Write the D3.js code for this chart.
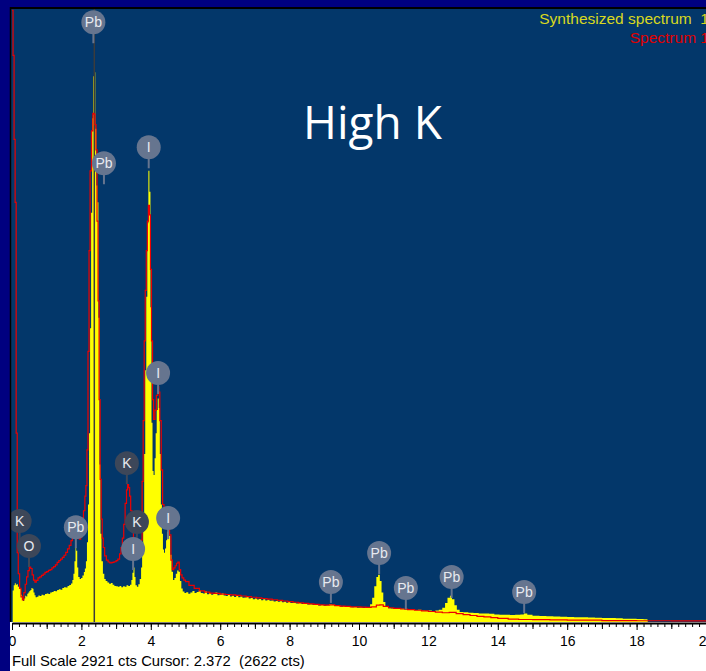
<!DOCTYPE html>
<html><head><meta charset="utf-8">
<script src="https://cdn.jsdelivr.net/npm/d3@7"></script>
<style>html,body{margin:0;padding:0;background:#fff;overflow:hidden}</style>
</head><body><svg id="c" width="706" height="671"></svg>
<script>
// Synthesized spectrum 1 (yellow filled): energy (keV) and counts
const synthE = [0.00,0.02,0.05,0.08,0.11,0.14,0.17,0.20,0.23,0.26,0.29,0.32,0.35,0.38,0.41,0.44,0.47,0.50,0.53,0.56,0.59,0.62,0.65,0.68,0.72,0.76,0.80,0.85,0.90,0.95,1.00,1.05,1.10,1.15,1.20,1.25,1.30,1.35,1.40,1.45,1.50,1.55,1.60,1.65,1.70,1.74,1.77,1.80,1.83,1.85,1.88,1.91,1.95,1.99,2.03,2.07,2.10,2.13,2.16,2.19,2.22,2.25,2.28,2.31,2.34,2.37,2.40,2.43,2.46,2.49,2.52,2.55,2.58,2.62,2.66,2.70,2.75,2.80,2.85,2.90,2.95,3.00,3.05,3.10,3.15,3.20,3.25,3.30,3.35,3.40,3.44,3.47,3.50,3.53,3.56,3.60,3.64,3.68,3.72,3.75,3.78,3.81,3.84,3.87,3.90,3.93,3.96,3.99,4.02,4.05,4.08,4.11,4.14,4.17,4.20,4.23,4.26,4.29,4.32,4.35,4.38,4.41,4.44,4.47,4.50,4.53,4.56,4.60,4.64,4.68,4.72,4.76,4.80,4.84,4.88,4.92,4.97,5.02,5.08,5.14,5.20,5.26,5.32,5.38,5.44,5.50,5.56,5.62,5.68,5.74,5.80,5.86,5.92,5.98,6.04,6.10,6.16,6.22,6.28,6.34,6.40,6.46,6.52,6.58,6.64,6.70,6.76,6.82,6.88,6.94,7.00,7.06,7.12,7.18,7.24,7.30,7.36,7.42,7.48,7.54,7.60,7.66,7.72,7.78,7.84,7.90,7.96,8.02,8.10,8.18,8.26,8.34,8.42,8.50,8.58,8.66,8.74,8.82,8.90,8.98,9.06,9.14,9.22,9.30,9.38,9.46,9.54,9.62,9.70,9.78,9.86,9.94,10.02,10.10,10.18,10.26,10.32,10.38,10.44,10.50,10.55,10.60,10.65,10.70,10.76,10.84,10.92,11.00,11.10,11.20,11.30,11.40,11.50,11.60,11.70,11.80,11.90,12.00,12.10,12.20,12.30,12.40,12.48,12.55,12.62,12.68,12.75,12.82,12.90,13.00,13.15,13.30,13.45,13.60,13.75,13.90,14.05,14.20,14.35,14.50,14.65,14.75,14.85,15.00,15.20,15.40,15.60,15.80,16.00,16.20,16.40,16.60,16.80,17.00,17.20,17.40,17.60,17.80,18.00,18.20,18.30,18.32,20.00];
const synthC = [0,150,175,185,178,180,168,172,160,130,108,100,112,125,122,135,140,148,152,162,158,140,128,118,120,126,124,130,128,134,136,133,140,143,148,146,152,156,154,162,166,164,172,176,184,200,230,290,355,340,260,215,205,210,222,238,255,290,380,560,900,1400,1950,2400,2600,2620,2350,2080,2000,1450,750,420,290,230,205,195,188,182,186,178,172,170,168,172,166,170,168,175,172,178,200,235,260,215,175,168,180,205,260,360,520,800,1200,1550,1900,2150,2050,1500,950,720,700,780,900,1010,1065,1020,800,560,420,345,330,350,390,430,448,410,320,240,200,210,230,245,240,195,160,145,138,142,135,140,148,138,143,150,138,136,145,132,138,130,134,140,128,131,136,126,124,130,122,125,119,124,118,121,115,117,121,112,114,109,112,107,110,104,108,102,106,101,103,98,100,96,99,94,96,92,95,90,92,88,90,86,87,83,85,81,83,79,81,78,80,84,82,76,77,73,75,71,73,70,71,68,69,67,69,72,85,115,170,215,225,195,140,95,72,66,64,66,62,63,60,62,58,57,58,55,54,55,53,55,58,68,90,115,125,108,80,58,48,46,44,43,41,40,39,36,35,34,33,35,36,40,35,30,28,27,26,25,24,23,23,22,20,19,19,18,16,15,14,13,12,0,0];

// Spectrum 1 (red line): energy (keV) and counts
const specE = [0.00,0.03,0.06,0.09,0.12,0.15,0.18,0.22,0.26,0.30,0.34,0.38,0.42,0.46,0.50,0.54,0.58,0.62,0.66,0.70,0.75,0.80,0.85,0.90,0.95,1.00,1.05,1.10,1.15,1.20,1.25,1.30,1.35,1.40,1.45,1.50,1.55,1.60,1.65,1.70,1.74,1.78,1.82,1.86,1.90,1.94,1.98,2.02,2.06,2.10,2.13,2.16,2.19,2.22,2.25,2.29,2.33,2.36,2.39,2.42,2.45,2.48,2.51,2.54,2.57,2.60,2.63,2.67,2.72,2.77,2.82,2.88,2.94,3.00,3.05,3.10,3.14,3.18,3.22,3.26,3.30,3.33,3.36,3.39,3.42,3.46,3.50,3.54,3.58,3.62,3.66,3.69,3.72,3.75,3.78,3.81,3.84,3.87,3.90,3.93,3.96,3.99,4.02,4.05,4.08,4.12,4.16,4.20,4.23,4.26,4.30,4.34,4.38,4.42,4.46,4.50,4.54,4.58,4.62,4.66,4.70,4.74,4.78,4.82,4.86,4.90,4.95,5.00,5.10,5.25,5.40,5.55,5.70,5.85,6.00,6.15,6.30,6.45,6.60,6.75,6.90,7.05,7.20,7.35,7.50,7.65,7.80,7.95,8.10,8.25,8.40,8.55,8.70,8.85,9.00,9.15,9.30,9.45,9.60,9.75,9.90,10.05,10.20,10.35,10.50,10.60,10.70,10.85,11.00,11.20,11.40,11.60,11.80,12.00,12.20,12.40,12.60,12.80,13.00,13.20,13.40,13.60,13.80,14.00,14.30,14.60,15.00,15.50,16.00,17.00,18.00,19.00,20.00];
const specC = [2915,2700,2300,2000,900,330,230,160,120,105,140,180,215,245,262,255,225,200,190,198,210,215,222,228,236,240,246,250,258,264,272,284,292,300,308,318,332,348,365,388,415,438,452,440,415,395,405,455,530,600,650,820,1290,1770,2150,2340,2424,2420,2370,2250,1910,1530,1060,680,490,400,355,315,295,286,282,284,287,292,300,325,355,400,465,565,630,655,640,600,530,450,400,375,360,345,325,312,390,670,960,1340,1580,1770,1910,1985,1940,1680,1340,1060,965,1010,1080,1120,1095,960,725,560,485,462,480,488,415,295,250,258,268,280,285,250,225,210,200,192,175,160,148,142,138,136,133,131,129,127,124,121,118,115,112,109,106,103,100,97,94,91,89,86,84,82,80,82,78,76,74,72,72,71,70,72,80,82,74,68,65,62,59,56,53,50,47,44,46,40,35,31,27,24,21,17,14,12,11,10,9,7,6,5,5];

// Peak labels: element, energy (keV), label height (counts)
const labelEl = ["Pb","Pb","I","I","K","K","I","I","K","O","Pb","Pb","Pb","Pb","Pb","Pb"];
const labelE  = [2.345,2.65,3.94,4.21,3.31,3.60,3.49,4.50,0.22,0.49,1.84,9.19,10.58,11.35,12.67,14.76];
const labelC  = [2858,2186,2262,1186,757,476,348,495,481,362,452,191,329,162,214,143];

const tickLabels = [0,2,4,6,8,10,12,14,16,18,20];
const cursorE = 2.372;
const legendTexts = ["Synthesized spectrum  1","Spectrum 1"];
const titleText = "High K";
const footerText = "Full Scale 2921 cts Cursor: 2.372  (2622 cts)";

const svg = d3.select("#c");
const x = d3.scaleLinear().domain([0,20]).range([12,706]);
const y = d3.scaleLinear().domain([0,2921]).range([622,9]);

svg.append("rect").attr("width",706).attr("height",671).attr("fill","#ffffff");
svg.append("rect").attr("x",11).attr("y",9).attr("width",695).attr("height",613).attr("fill","#03376a");

const defs = svg.append("defs");
defs.append("clipPath").attr("id","clip").append("rect").attr("x",11).attr("y",9).attr("width",695).attr("height",613);

const plot = svg.append("g").attr("clip-path","url(#clip)");
const synth = synthE.map((e,i)=>[e,synthC[i]]);
const spec = specE.map((e,i)=>[e,specC[i]]);

plot.append("path").datum(synth)
  .attr("d", d3.area().x(d=>x(d[0])).y0(y(0)).y1(d=>y(d[1])).curve(d3.curveStepAfter))
  .attr("fill","#ffff00");

plot.append("line").attr("x1",x(cursorE)).attr("x2",x(cursorE)).attr("y1",9).attr("y2",622)
  .attr("stroke","#3c3c3c").attr("stroke-width",1.5);

plot.append("path").datum(spec)
  .attr("d", d3.line().x(d=>x(d[0])).y(d=>y(d[1])).curve(d3.curveStepAfter))
  .attr("fill","none").attr("stroke","#ee0000").attr("stroke-width",1.2);

// labels
const lab = plot.selectAll("g.lab").data(labelEl.map((el,i)=>({el, e:labelE[i], c:labelC[i]})))
  .enter().append("g").attr("class","lab")
  .attr("transform", d=>`translate(${x(d.e)},${y(d.c)})`);
lab.append("line").attr("x1",0).attr("x2",0).attr("y1",11).attr("y2",21)
  .attr("stroke", d=> (d.el==="K"||d.el==="O") ? "#3d4759" : "#66758f").attr("stroke-width",2);
lab.append("circle").attr("r",12)
  .attr("fill", d=> (d.el==="K"||d.el==="O") ? "#3d4759" : "#66758f");
lab.append("text").text(d=>d.el).attr("text-anchor","middle").attr("dy","0.36em")
  .attr("font-family","Liberation Sans, Arial, sans-serif").attr("font-size",14)
  .attr("fill","#e8eaf0");

// title & legend
svg.append("text").attr("x",303).attr("y",139).text(titleText)
  .attr("font-family","Open Sans, sans-serif").attr("font-size",46).attr("fill","#ffffff");
svg.append("text").attr("x",709).attr("y",24).attr("text-anchor","end").text(legendTexts[0])
  .style("white-space","pre")
  .attr("font-family","Liberation Sans, Arial, sans-serif").attr("font-size",15.5).attr("fill","#d8d820");
svg.append("text").attr("x",709).attr("y",43).attr("text-anchor","end").text(legendTexts[1])
  .attr("font-family","Liberation Sans, Arial, sans-serif").attr("font-size",15.5).attr("fill","#e00000");

// axis
const axG = svg.append("g").attr("transform","translate(0,623)");
axG.append("g").call(d3.axisBottom(x).tickValues(d3.range(0,101).map(i=>i*0.2)).tickSize(4).tickSizeOuter(0).tickFormat(""))
  .call(g=>g.select(".domain").remove());
axG.append("g").call(d3.axisBottom(x).tickValues(d3.range(1,20,2)).tickSize(6).tickSizeOuter(0).tickFormat(""))
  .call(g=>g.select(".domain").remove());
const major = axG.append("g").call(d3.axisBottom(x).tickValues(tickLabels).tickSize(7).tickPadding(6).tickSizeOuter(0).tickFormat(d3.format("d")));
major.select(".domain").attr("stroke","#000").attr("stroke-width",2);
major.selectAll("text").attr("font-family","Liberation Sans, Arial, sans-serif").attr("font-size",14).attr("fill","#000");
axG.selectAll(".tick line").attr("stroke","#000");

svg.append("text").attr("x",12).attr("y",666).text(footerText).style("white-space","pre")
  .attr("font-family","Liberation Sans, Arial, sans-serif").attr("font-size",14.8).attr("fill","#000");

// frame
svg.append("rect").attr("x",0).attr("y",0).attr("width",10).attr("height",671).attr("fill","#000080");
svg.append("rect").attr("x",0).attr("y",0).attr("width",706).attr("height",7).attr("fill","#000080");
svg.append("line").attr("x1",10).attr("x2",706).attr("y1",8).attr("y2",8).attr("stroke","#000").attr("stroke-width",2);
svg.append("line").attr("x1",10.5).attr("x2",10.5).attr("y1",7).attr("y2",622).attr("stroke","#000").attr("stroke-width",1.5);
</script></body></html>
